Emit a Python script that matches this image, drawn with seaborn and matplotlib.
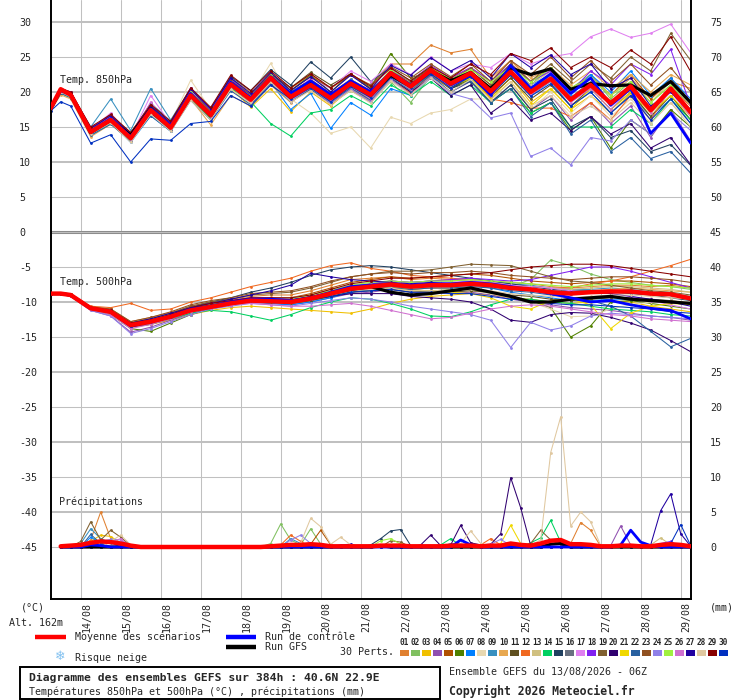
import matplotlib
matplotlib.use("Agg")
import matplotlib.pyplot as plt
import seaborn as sns
import pandas as pd
from matplotlib.transforms import ScaledTranslation
from matplotlib.patches import Rectangle
from matplotlib.lines import Line2D

# ---------------- data ----------------
hours = [0, 6, 12, 24, 36, 48, 60, 72, 84, 96, 108, 120, 132, 144, 156, 168, 180,
         192, 204, 216, 228, 240, 252, 264, 276, 288, 300, 312, 324, 336, 348, 360, 372, 384]
precip_hours = list(range(6, 385, 6))

date_hours = [18, 42, 66, 90, 114, 138, 162, 186, 210, 234, 258, 282, 306, 330, 354, 378]
date_labels = ["14/08", "15/08", "16/08", "17/08", "18/08", "19/08", "20/08", "21/08",
               "22/08", "23/08", "24/08", "25/08", "26/08", "27/08", "28/08", "29/08"]

left_ticks = [30, 25, 20, 15, 10, 5, 0, -5, -10, -15, -20, -25, -30, -35, -40, -45]
right_ticks = [75, 70, 65, 60, 55, 50, 45, 40, 35, 30, 25, 20, 15, 10, 5, 0]

pert_ids = ["%02d" % i for i in range(1, 31)]
pert_colors = ["#E08030", "#80C060", "#F0C000", "#9050B0", "#B05000", "#508000",
               "#0080FF", "#E8D8B0", "#3890C0", "#E8A850", "#605020", "#F06820",
               "#D0C080", "#00D060", "#204060", "#687080", "#E080F0", "#8020F0",
               "#806030", "#300070", "#F0D800", "#2860A0", "#905020", "#9080E8",
               "#A0F040", "#D070D0", "#2000A0", "#E0C8A0", "#880000", "#0030C0"]

t850_mean = [17.7, 20.4, 19.6, 14.3, 16.0, 13.4, 17.4, 14.9, 19.5, 16.7, 21.1, 18.9, 22.0, 19.3, 21.0, 19.1, 21.2,
             19.6, 22.7, 20.8, 23.1, 21.2, 22.7, 20.1, 22.9, 20.0, 21.9, 18.9, 21.0, 18.4, 20.8, 17.4, 20.5, 17.1]
t850_ctrl = [17.6, 20.2, 19.6, 14.4, 16.2, 13.6, 17.6, 15.2, 19.8, 16.8, 21.4, 19.2, 22.2, 19.8, 21.6, 19.6, 21.6,
             20.0, 22.8, 21.0, 23.0, 21.0, 22.4, 19.6, 23.8, 20.5, 22.6, 19.8, 22.0, 18.1, 20.5, 14.1, 17.0, 12.7]
t850_gfs = [17.6, 20.3, 19.7, 14.2, 16.0, 13.8, 17.6, 15.0, 19.6, 16.6, 21.2, 19.0, 22.0, 19.2, 21.4, 19.4, 21.2,
            19.6, 22.4, 20.8, 23.0, 21.6, 22.8, 20.5, 23.4, 22.5, 23.3, 20.4, 21.2, 20.9, 21.0, 19.5, 21.5, 18.5]
t850_perts = [
    [17.8, 20.3, 19.8, 14.8, 16.5, 13.8, 17.8, 15.5, 20.0, 17.5, 22.0, 20.0, 22.5, 20.5, 22.5, 20.5, 22.5, 21.0, 24.0, 24.0, 26.7, 25.6, 26.1, 22.0, 24.5, 21.5, 23.0, 20.0, 22.5, 19.5, 22.0, 19.0, 21.5, 20.5],
    [17.6, 20.2, 19.6, 14.2, 16.3, 13.2, 17.2, 14.6, 19.8, 16.8, 21.5, 18.5, 21.8, 18.8, 20.5, 18.3, 20.2, 18.6, 21.5, 18.5, 22.3, 20.5, 22.0, 19.5, 23.5, 21.0, 23.5, 20.5, 22.5, 19.0, 21.5, 18.5, 21.0, 18.0],
    [17.4, 19.8, 19.2, 14.0, 15.8, 13.0, 17.0, 14.6, 19.0, 16.2, 20.6, 17.8, 20.5, 17.2, 20.0, 18.0, 20.5, 18.8, 22.0, 20.0, 22.5, 20.5, 22.0, 19.2, 22.0, 18.5, 20.5, 17.5, 19.5, 17.0, 19.8, 16.5, 19.5, 16.0],
    [17.7, 20.4, 19.6, 14.6, 16.8, 13.8, 18.2, 15.4, 20.0, 17.0, 21.2, 19.0, 21.8, 19.0, 20.6, 18.6, 20.5, 19.0, 22.0, 20.0, 22.0, 20.0, 21.5, 18.5, 21.0, 17.5, 19.5, 16.0, 18.5, 15.5, 18.0, 13.5, 17.5, 13.0],
    [17.9, 20.5, 20.0, 14.9, 16.4, 14.0, 17.8, 15.2, 19.8, 16.9, 21.4, 19.4, 22.4, 20.0, 21.8, 19.8, 21.8, 20.2, 23.0, 21.4, 23.5, 21.8, 23.4, 21.0, 24.0, 21.5, 23.5, 20.5, 22.0, 19.5, 22.5, 19.0, 22.0, 18.5],
    [17.5, 20.0, 19.4, 14.4, 15.8, 13.6, 17.4, 15.0, 19.6, 16.6, 21.6, 19.2, 22.6, 20.2, 22.4, 20.0, 22.6, 20.6, 25.5, 22.0, 23.0, 20.5, 21.8, 18.5, 20.5, 17.0, 18.5, 14.5, 16.5, 12.0, 16.0, 14.0, 17.5, 15.0],
    [17.6, 20.1, 19.5, 13.8, 15.6, 12.8, 16.6, 14.4, 19.2, 16.4, 20.8, 18.5, 21.4, 17.5, 19.8, 14.8, 18.5, 16.7, 20.5, 19.5, 22.0, 21.0, 23.0, 20.5, 23.5, 21.0, 22.5, 19.5, 22.5, 20.0, 23.0, 19.5, 22.0, 19.0],
    [17.6, 20.0, 19.4, 14.0, 16.2, 13.6, 18.2, 15.6, 21.7, 17.5, 21.8, 19.5, 24.1, 19.0, 17.0, 14.1, 15.0, 12.0, 16.4, 15.5, 17.0, 17.5, 19.0, 19.0, 21.5, 17.5, 20.0, 17.0, 19.5, 16.5, 19.0, 16.0, 18.5, 15.5],
    [17.9, 20.3, 19.9, 15.0, 19.0, 14.5, 20.5, 16.0, 20.5, 17.0, 22.0, 19.5, 22.5, 20.0, 21.5, 19.5, 21.8, 20.0, 23.0, 21.0, 23.0, 21.0, 22.0, 19.5, 22.5, 19.5, 21.5, 18.0, 20.0, 17.0, 19.5, 16.5, 19.0, 15.5],
    [17.3, 19.6, 19.0, 13.6, 15.4, 13.0, 16.8, 14.8, 19.0, 15.3, 19.5, 18.0, 21.0, 18.5, 20.5, 18.5, 20.8, 19.0, 22.5, 21.5, 23.5, 22.0, 23.5, 21.5, 24.5, 22.0, 23.5, 21.0, 23.0, 20.5, 22.5, 20.0, 22.5, 21.0],
    [17.7, 20.3, 19.7, 14.7, 16.6, 14.2, 18.0, 15.6, 20.2, 17.4, 21.6, 19.6, 22.6, 20.6, 22.8, 21.0, 22.6, 20.4, 22.8, 20.4, 22.6, 20.4, 22.2, 19.4, 22.0, 19.0, 21.0, 18.0, 20.5, 17.5, 20.0, 16.5, 19.5, 16.0],
    [17.5, 20.1, 19.4, 14.4, 15.9, 13.4, 17.2, 14.8, 19.4, 16.4, 20.8, 18.4, 21.4, 18.6, 20.4, 18.2, 20.4, 18.6, 21.8, 19.8, 22.4, 20.6, 22.8, 19.0, 18.5, 17.7, 17.7, 16.5, 18.5, 16.0, 19.5, 16.0, 20.5, 18.0],
    [17.6, 20.2, 19.6, 14.4, 16.2, 13.6, 17.6, 15.2, 19.6, 16.8, 21.2, 19.2, 22.2, 19.6, 21.4, 19.4, 21.4, 19.8, 22.8, 21.2, 23.2, 21.6, 23.0, 20.6, 23.6, 21.0, 23.0, 20.0, 22.0, 19.5, 22.0, 18.5, 21.5, 18.0],
    [17.4, 19.9, 19.2, 14.0, 15.6, 13.0, 17.0, 14.6, 19.2, 16.2, 20.6, 18.6, 15.5, 13.7, 17.0, 17.5, 19.5, 18.0, 21.0, 19.5, 21.5, 19.5, 21.0, 18.5, 20.5, 17.0, 18.5, 15.0, 15.0, 15.0, 17.5, 15.5, 19.0, 16.0],
    [17.8, 20.4, 19.8, 14.6, 16.8, 14.0, 18.4, 15.8, 20.4, 17.6, 22.2, 20.2, 23.2, 21.0, 24.3, 22.0, 25.0, 21.5, 23.5, 21.5, 23.5, 20.5, 21.5, 18.5, 21.0, 17.5, 19.0, 15.0, 16.5, 13.5, 14.5, 11.5, 12.5, 9.5],
    [17.5, 20.0, 19.4, 14.2, 15.8, 13.2, 17.2, 14.8, 19.4, 16.6, 20.8, 18.6, 21.6, 19.0, 20.8, 18.8, 20.8, 19.2, 22.2, 20.4, 22.6, 20.8, 22.4, 20.2, 23.0, 20.2, 22.4, 19.2, 21.5, 18.5, 21.0, 17.5, 20.5, 17.5],
    [17.7, 20.2, 19.6, 14.6, 17.0, 13.6, 19.5, 15.4, 20.2, 17.0, 21.4, 19.2, 22.0, 19.4, 22.0, 20.5, 23.0, 21.5, 24.0, 22.5, 25.0, 23.0, 24.0, 23.5, 25.5, 24.0, 25.0, 25.5, 27.9, 29.0, 27.8, 28.4, 29.7, 25.6],
    [17.8, 20.5, 20.0, 14.8, 16.6, 14.0, 18.0, 15.4, 20.6, 17.4, 21.8, 19.6, 22.4, 19.6, 21.4, 19.8, 21.6, 20.2, 23.0, 21.6, 23.8, 22.0, 23.5, 21.5, 24.0, 21.5, 23.0, 20.0, 23.0, 21.0, 24.0, 22.5, 26.1, 18.0],
    [17.6, 20.2, 19.6, 14.4, 16.0, 13.4, 17.6, 15.0, 19.6, 16.6, 21.0, 19.0, 22.2, 19.8, 21.4, 19.6, 21.6, 20.0, 23.0, 21.2, 23.4, 21.6, 23.4, 21.0, 24.0, 21.5, 24.0, 21.5, 24.0, 22.0, 25.0, 23.0, 28.4, 24.5],
    [17.5, 20.0, 19.4, 14.2, 15.8, 13.2, 17.0, 14.6, 19.2, 16.4, 20.8, 18.8, 21.8, 19.2, 20.8, 18.8, 21.0, 19.2, 22.0, 20.0, 22.0, 19.5, 21.0, 17.0, 19.0, 16.0, 17.0, 14.5, 16.5, 14.0, 15.5, 12.0, 13.5, 9.6],
    [17.6, 20.1, 19.5, 14.4, 16.0, 13.5, 17.5, 15.0, 19.5, 16.6, 21.0, 18.9, 21.8, 19.2, 21.0, 19.0, 21.0, 19.4, 22.4, 20.6, 22.8, 20.8, 22.0, 19.0, 21.5, 18.0, 20.5, 17.5, 20.5, 17.5, 20.0, 17.0, 19.5, 16.5],
    [17.4, 19.8, 19.2, 13.8, 15.4, 13.0, 16.6, 14.4, 18.8, 16.0, 20.2, 18.2, 21.2, 18.6, 20.4, 18.4, 20.6, 18.8, 22.0, 20.2, 22.4, 20.0, 21.6, 18.5, 20.5, 16.5, 18.5, 14.0, 16.0, 11.5, 13.5, 10.5, 11.5, 8.4],
    [17.8, 20.4, 19.8, 14.6, 16.4, 13.8, 18.0, 15.4, 20.0, 17.2, 21.6, 19.6, 22.6, 20.2, 22.2, 20.6, 22.4, 21.0, 23.6, 22.0, 24.0, 22.2, 24.0, 21.5, 24.5, 22.5, 25.0, 22.0, 24.5, 21.5, 24.0, 21.0, 23.5, 20.0],
    [17.5, 20.0, 19.4, 14.2, 16.4, 13.2, 17.6, 14.8, 19.6, 16.4, 21.0, 18.6, 21.6, 18.8, 20.6, 18.4, 20.4, 18.6, 21.8, 19.6, 22.2, 19.8, 19.0, 16.3, 17.0, 10.8, 12.0, 9.6, 13.5, 13.0, 16.0, 14.0, 17.0, 14.5],
    [17.7, 20.3, 19.8, 14.6, 16.2, 13.8, 17.8, 15.2, 20.0, 17.0, 21.4, 19.4, 22.4, 20.0, 21.6, 19.6, 21.6, 20.0, 23.2, 21.6, 23.6, 21.8, 23.2, 21.4, 23.6, 21.4, 23.4, 20.6, 22.0, 19.5, 21.5, 18.5, 21.0, 18.5],
    [17.6, 20.1, 19.5, 14.3, 16.6, 13.4, 18.6, 14.8, 19.4, 16.4, 20.8, 18.6, 21.8, 19.0, 21.0, 18.8, 21.0, 19.0, 22.4, 20.4, 23.0, 20.6, 22.6, 19.4, 22.6, 19.6, 21.6, 18.5, 20.5, 17.5, 20.5, 17.0, 20.0, 16.5],
    [17.8, 20.4, 19.8, 14.8, 16.6, 14.0, 18.0, 15.6, 20.4, 17.6, 22.0, 19.8, 22.8, 20.2, 22.2, 20.0, 22.4, 20.4, 23.8, 22.4, 24.9, 23.0, 24.5, 22.0, 25.5, 23.5, 25.3, 22.5, 24.0, 20.5, 22.0, 18.0, 20.0, 17.0],
    [17.5, 20.0, 19.3, 14.0, 15.6, 12.8, 16.8, 14.4, 18.8, 16.0, 20.4, 18.4, 21.4, 18.6, 20.2, 18.2, 20.2, 18.4, 21.6, 19.6, 22.0, 20.0, 21.8, 18.8, 21.5, 18.0, 19.5, 16.5, 18.0, 16.0, 18.5, 15.5, 18.5, 15.0],
    [17.9, 20.5, 20.0, 15.0, 16.8, 14.2, 18.2, 15.8, 20.6, 17.8, 22.4, 20.2, 23.0, 20.6, 22.6, 20.6, 22.6, 20.8, 23.4, 21.6, 23.6, 22.0, 24.0, 22.5, 25.5, 24.5, 26.3, 23.5, 25.0, 23.5, 26.0, 24.0, 27.9, 22.9],
    [17.3, 18.6, 18.0, 12.7, 13.9, 10.0, 13.3, 13.1, 15.5, 15.8, 19.5, 18.0, 21.0, 19.0, 20.6, 18.6, 20.8, 19.2, 22.2, 20.6, 22.6, 20.6, 22.2, 19.6, 22.4, 19.4, 21.2, 18.0, 20.0, 17.0, 19.5, 16.0, 19.0, 15.5],
]

t500_mean = [-8.8, -8.8, -9.0, -10.9, -11.4, -13.3, -12.8, -12.1, -11.2, -10.7, -10.2, -9.8, -9.9, -10.0, -9.5, -8.8, -8.1,
             -7.8, -7.5, -7.8, -7.6, -7.6, -7.4, -7.6, -8.0, -8.2, -8.6, -8.8, -8.6, -8.5, -8.5, -8.8, -8.9, -9.5]
t500_ctrl = [-8.8, -8.8, -9.0, -10.9, -11.4, -13.3, -12.8, -12.0, -11.0, -10.6, -10.0, -9.6, -9.6, -9.8, -9.4, -8.6, -7.8,
             -7.6, -7.4, -7.6, -7.4, -7.4, -7.2, -7.4, -7.8, -8.2, -8.8, -9.4, -10.0, -9.8, -10.4, -10.9, -11.2, -12.4]
t500_gfs = [-8.8, -8.8, -9.0, -10.9, -11.4, -13.3, -12.8, -12.0, -11.1, -10.6, -10.1, -9.7, -9.8, -9.9, -9.4, -8.8, -8.2,
            -7.8, -8.6, -9.0, -8.8, -8.4, -8.0, -8.6, -9.2, -10.0, -10.0, -9.6, -9.4, -9.2, -9.6, -9.8, -10.0, -10.2]
t500_perts = [
    [-8.7, -8.7, -8.9, -10.7, -11.0, -12.8, -12.2, -11.5, -10.6, -10.0, -9.6, -9.2, -9.0, -9.0, -8.4, -7.6, -6.8, -6.6, -6.4, -6.8, -6.6, -6.8, -6.8, -7.0, -7.2, -7.4, -7.8, -8.0, -7.8, -7.6, -7.6, -7.8, -7.6, -8.0],
    [-8.8, -8.8, -9.0, -10.8, -11.2, -13.0, -12.6, -11.8, -11.0, -10.4, -10.0, -9.6, -9.6, -9.6, -9.2, -8.4, -7.6, -7.4, -7.2, -7.6, -7.4, -7.4, -7.2, -7.4, -7.8, -6.8, -4.0, -4.8, -6.0, -6.8, -7.2, -7.6, -7.8, -8.2],
    [-8.8, -8.9, -9.1, -11.0, -11.6, -13.6, -13.2, -12.6, -11.8, -11.2, -10.8, -10.6, -10.8, -11.0, -11.2, -11.4, -11.6, -11.0, -10.2, -9.6, -9.2, -9.0, -8.8, -9.0, -9.4, -9.6, -10.0, -10.2, -10.0, -9.8, -10.0, -10.6, -11.0, -11.4],
    [-8.8, -8.9, -9.2, -11.2, -12.0, -14.3, -13.6, -12.6, -11.6, -11.0, -10.4, -10.0, -10.2, -10.4, -10.0, -9.4, -8.8, -8.6, -8.2, -8.6, -8.6, -8.8, -8.6, -9.0, -9.6, -10.0, -10.4, -10.8, -11.0, -11.2, -11.6, -12.0, -12.2, -12.6],
    [-8.7, -8.7, -8.9, -10.8, -11.2, -13.0, -12.4, -11.8, -10.8, -10.2, -9.8, -9.4, -9.4, -9.4, -8.8, -8.0, -7.2, -6.8, -6.4, -6.6, -6.4, -6.2, -6.0, -6.2, -6.6, -7.0, -7.2, -7.4, -7.2, -7.0, -7.0, -7.2, -7.4, -7.8],
    [-8.8, -8.9, -9.1, -11.0, -11.8, -13.8, -14.2, -13.0, -11.8, -11.0, -10.4, -10.0, -10.0, -10.2, -9.8, -9.2, -8.6, -8.2, -7.8, -8.2, -8.0, -8.2, -8.2, -8.6, -9.2, -9.8, -10.8, -15.0, -13.4, -10.0, -9.8, -10.2, -10.6, -11.0],
    [-8.8, -8.8, -9.0, -10.9, -11.4, -13.4, -12.9, -12.2, -11.4, -10.9, -10.4, -10.0, -10.2, -10.4, -10.0, -9.4, -8.6, -8.2, -7.8, -8.0, -7.8, -7.8, -7.6, -8.0, -8.6, -9.0, -9.4, -9.8, -9.8, -9.6, -9.6, -9.8, -10.0, -10.4],
    [-8.8, -8.8, -9.0, -10.8, -11.2, -13.0, -12.6, -12.0, -11.0, -10.6, -10.0, -9.6, -9.6, -9.6, -9.2, -8.6, -8.0, -7.8, -7.6, -8.0, -8.0, -8.2, -8.4, -8.8, -9.4, -10.0, -11.0, -12.1, -12.0, -11.0, -10.4, -10.0, -9.8, -10.0],
    [-8.8, -8.8, -9.0, -10.9, -11.4, -13.2, -12.6, -11.8, -10.8, -10.2, -9.8, -9.4, -9.6, -9.8, -9.4, -8.6, -7.8, -7.4, -7.0, -7.2, -7.0, -7.0, -6.8, -7.0, -7.4, -7.6, -8.0, -8.2, -8.2, -8.0, -8.2, -8.6, -9.0, -9.4],
    [-8.8, -8.9, -9.0, -10.9, -11.6, -13.4, -12.8, -12.0, -11.2, -10.8, -10.4, -10.0, -10.0, -10.2, -9.6, -9.0, -8.4, -8.0, -7.8, -8.2, -8.0, -8.0, -7.8, -7.8, -8.2, -8.4, -8.6, -8.8, -8.4, -8.2, -8.0, -8.2, -8.4, -8.6],
    [-8.8, -8.8, -9.0, -11.0, -11.6, -13.6, -13.2, -12.4, -11.4, -10.8, -10.2, -9.8, -10.0, -10.2, -9.8, -9.2, -8.6, -8.4, -8.2, -8.6, -8.4, -8.6, -8.4, -8.6, -9.0, -9.2, -9.6, -9.8, -9.6, -9.4, -9.4, -9.6, -9.8, -10.2],
    [-8.8, -8.8, -9.0, -10.6, -10.8, -10.2, -11.2, -11.0, -10.0, -9.4, -8.6, -7.8, -7.2, -6.6, -5.6, -4.8, -4.4, -5.2, -5.6, -6.2, -6.4, -6.6, -6.8, -7.2, -7.6, -7.8, -8.0, -8.0, -7.4, -7.0, -6.4, -5.6, -4.8, -3.9],
    [-8.8, -8.8, -9.0, -10.8, -11.2, -13.0, -12.4, -11.6, -10.8, -10.2, -9.8, -9.4, -9.4, -9.4, -9.0, -8.2, -7.6, -7.2, -7.0, -7.2, -7.0, -7.0, -6.8, -7.2, -7.6, -7.8, -8.0, -8.2, -8.0, -7.8, -7.8, -8.0, -8.2, -8.6],
    [-8.8, -8.9, -9.1, -11.0, -11.6, -13.4, -13.0, -12.4, -11.6, -11.2, -11.4, -12.0, -12.6, -11.8, -10.8, -10.0, -9.4, -9.6, -10.2, -11.0, -12.0, -12.1, -11.4, -10.4, -9.6, -9.6, -10.0, -10.2, -10.6, -11.0, -11.2, -11.4, -11.8, -12.0],
    [-8.8, -8.8, -9.0, -10.8, -11.2, -13.0, -12.6, -11.8, -10.8, -10.0, -9.4, -8.6, -8.0, -7.2, -6.2, -5.4, -5.0, -4.8, -5.0, -5.4, -5.8, -6.2, -6.6, -7.0, -7.4, -7.8, -8.2, -8.4, -8.4, -8.6, -8.8, -9.0, -9.4, -9.8],
    [-8.8, -8.8, -9.0, -10.9, -11.4, -13.2, -12.8, -12.0, -11.2, -10.6, -10.2, -9.8, -9.8, -10.0, -9.6, -9.0, -8.2, -8.0, -7.8, -8.0, -7.8, -7.8, -7.6, -7.8, -8.2, -8.4, -8.6, -8.8, -8.6, -8.4, -8.4, -8.6, -8.8, -9.2],
    [-8.8, -8.8, -9.0, -10.9, -11.6, -13.6, -13.0, -12.2, -11.2, -10.6, -10.0, -9.6, -9.6, -9.8, -9.4, -8.8, -8.2, -7.8, -7.4, -7.6, -7.4, -7.2, -7.0, -7.2, -7.6, -7.8, -8.0, -8.4, -8.6, -8.8, -9.2, -9.8, -10.4, -11.0],
    [-8.8, -8.8, -9.0, -10.9, -11.4, -13.2, -12.6, -11.8, -10.8, -10.2, -9.8, -9.4, -9.4, -9.6, -9.2, -8.6, -7.8, -7.4, -7.0, -7.2, -7.0, -6.8, -6.6, -6.8, -7.0, -6.8, -6.2, -5.6, -5.0, -5.0, -5.6, -6.4, -7.2, -8.0],
    [-8.8, -8.8, -9.0, -10.8, -11.2, -13.0, -12.4, -11.6, -10.6, -10.0, -9.6, -9.0, -8.8, -8.6, -8.0, -7.2, -6.4, -6.0, -5.6, -5.6, -5.4, -5.0, -4.6, -4.7, -4.8, -5.6, -6.4, -7.0, -7.2, -7.6, -8.0, -8.4, -8.6, -9.0],
    [-8.8, -8.9, -9.1, -11.0, -11.6, -13.6, -13.0, -12.2, -11.2, -10.6, -10.0, -9.6, -9.6, -9.8, -9.6, -9.2, -8.8, -8.8, -8.8, -9.2, -9.4, -9.6, -10.0, -11.0, -12.6, -12.9, -11.8, -11.5, -11.6, -12.2, -13.0, -14.0, -15.5, -17.1],
    [-8.8, -8.8, -9.0, -10.9, -11.4, -13.2, -12.8, -12.0, -11.0, -10.6, -10.2, -9.8, -9.8, -10.0, -9.6, -9.0, -8.4, -8.2, -8.0, -8.4, -8.4, -8.6, -8.8, -9.4, -10.6, -11.0, -9.8, -9.6, -10.4, -13.8, -11.6, -10.6, -10.2, -10.4],
    [-8.8, -8.8, -9.0, -10.9, -11.4, -13.4, -12.9, -12.1, -11.2, -10.7, -10.2, -9.8, -9.8, -10.0, -9.6, -9.0, -8.4, -8.2, -8.0, -8.2, -8.0, -8.0, -7.8, -8.0, -8.4, -8.6, -9.0, -9.4, -9.8, -10.6, -12.0, -14.2, -16.4, -15.2],
    [-8.7, -8.7, -8.9, -10.7, -11.0, -12.8, -12.2, -11.4, -10.4, -9.8, -9.4, -8.8, -8.6, -8.4, -7.8, -7.0, -6.4, -6.0, -5.8, -6.0, -5.8, -5.8, -5.6, -5.8, -6.2, -6.4, -6.6, -6.8, -6.6, -6.4, -6.4, -6.6, -6.8, -7.2],
    [-8.8, -8.9, -9.2, -11.2, -12.0, -14.5, -13.8, -12.8, -11.8, -11.0, -10.6, -10.2, -10.4, -10.6, -10.2, -9.8, -9.4, -9.6, -10.0, -10.6, -11.0, -11.4, -11.8, -12.6, -16.5, -12.9, -14.0, -13.4, -12.0, -11.6, -11.8, -12.0, -12.2, -12.4],
    [-8.8, -8.8, -9.0, -10.8, -11.2, -13.0, -12.6, -11.8, -10.8, -10.4, -10.0, -9.6, -9.6, -9.6, -9.0, -8.4, -7.6, -7.2, -7.0, -7.2, -7.0, -7.0, -6.8, -7.0, -7.2, -7.4, -7.6, -7.8, -7.6, -7.4, -7.4, -7.6, -7.8, -8.0],
    [-8.8, -8.9, -9.1, -11.0, -11.8, -13.8, -13.2, -12.4, -11.4, -10.8, -10.4, -10.2, -10.4, -10.6, -10.6, -10.4, -10.2, -10.6, -11.2, -11.8, -12.4, -12.2, -11.6, -11.0, -10.6, -10.4, -10.6, -11.0, -11.4, -11.8, -12.0, -12.4, -12.6, -12.8],
    [-8.8, -8.8, -9.0, -10.8, -11.2, -13.0, -12.4, -11.6, -10.8, -10.2, -9.6, -9.0, -8.4, -7.6, -5.9, -6.4, -6.8, -7.0, -7.2, -7.4, -7.2, -7.4, -7.4, -7.6, -8.0, -8.2, -8.4, -8.6, -8.6, -8.8, -9.2, -9.6, -10.0, -10.6],
    [-8.8, -8.8, -9.0, -10.9, -11.4, -13.2, -12.8, -12.0, -11.0, -10.6, -10.2, -9.8, -9.8, -10.0, -9.6, -9.0, -8.4, -8.2, -8.0, -8.4, -8.4, -8.4, -8.2, -8.4, -8.8, -9.0, -9.2, -9.4, -9.2, -9.0, -9.0, -9.2, -9.4, -9.6],
    [-8.8, -8.8, -9.0, -10.8, -11.2, -13.0, -12.6, -11.8, -10.8, -10.2, -9.8, -9.4, -9.4, -9.4, -9.0, -8.2, -7.4, -7.0, -6.6, -6.6, -6.4, -6.2, -6.0, -5.8, -5.4, -5.0, -4.8, -4.6, -4.6, -4.8, -5.2, -5.6, -6.0, -6.4],
    [-8.8, -8.8, -9.0, -10.9, -11.4, -13.4, -12.9, -12.2, -11.2, -10.7, -10.2, -9.8, -9.8, -10.0, -9.6, -9.2, -8.6, -8.4, -8.2, -8.6, -8.6, -8.8, -8.8, -9.2, -9.6, -9.8, -10.2, -10.4, -10.4, -10.6, -10.8, -11.0, -11.4, -11.6],
]

precip_mean = [0.1, 0.2, 0.3, 0.6, 0.8, 0.7, 0.5, 0.2,
               0.0, 0.0, 0.0, 0.0, 0.0, 0.0, 0.0, 0.0,
               0.0, 0.0, 0.0, 0.0, 0.0, 0.1, 0.2, 0.3,
               0.3, 0.4, 0.3, 0.1, 0.1, 0.1, 0.1, 0.1,
               0.2, 0.2, 0.2, 0.1, 0.1, 0.1, 0.1, 0.2,
               0.2, 0.2, 0.1, 0.2, 0.2, 0.5, 0.3, 0.2,
               0.5, 0.9, 1.0, 0.4, 0.4, 0.3, 0.1, 0.1,
               0.2, 0.2, 0.1, 0.1, 0.3, 0.4, 0.3, 0.1]
# (member, hour, mm) - every other 6-hourly value is 0 mm
precip_events = [
    (1, 24, 1.0), (1, 30, 5.0), (1, 36, 1.2), (1, 42, 0.3),
    (19, 18, 0.8), (19, 24, 3.6), (19, 30, 1.0), (19, 36, 2.4), (19, 42, 1.4), (19, 48, 0.2),
    (9, 18, 0.5), (9, 24, 2.6), (9, 30, 1.2), (9, 36, 0.6),
    (3, 24, 0.8), (3, 30, 1.7), (3, 36, 1.5), (3, 42, 0.6),
    (28, 36, 0.8), (28, 42, 1.7), (28, 48, 0.3),
    (24, 30, 0.8), (24, 36, 1.1), (24, 42, 1.0),
    (7, 24, 1.4), (7, 30, 0.6),
    (26, 36, 0.7), (26, 42, 1.2),
    (22, 24, 1.8), (22, 30, 0.5),
    (2, 132, 0.5), (2, 138, 3.3), (2, 144, 1.0), (2, 150, 0.3), (2, 156, 2.6), (2, 162, 0.4),
    (12, 138, 0.3), (12, 144, 1.7), (12, 150, 0.8),
    (24, 144, 1.0), (24, 150, 1.7), (24, 156, 0.5),
    (9, 144, 1.2), (9, 150, 0.5),
    (28, 150, 0.6), (28, 156, 4.1), (28, 162, 2.9), (28, 168, 0.4), (28, 174, 1.4), (28, 180, 0.3),
    (5, 156, 0.4), (5, 162, 2.4), (5, 168, 0.3),
    (27, 174, 0.3), (27, 180, 0.4),
    (15, 192, 0.3), (15, 198, 1.2), (15, 204, 2.3), (15, 210, 2.5), (15, 216, 0.2),
    (25, 198, 0.9), (25, 204, 1.2), (25, 210, 0.4),
    (19, 204, 0.9), (19, 210, 0.7),
    (20, 222, 0.3), (20, 228, 1.7), (20, 234, 0.2), (20, 240, 0.3), (20, 246, 3.1), (20, 252, 0.6),
    (20, 258, 0.3), (20, 264, 0.4), (20, 270, 1.9), (20, 276, 9.9), (20, 282, 5.6), (20, 288, 0.2),
    (14, 234, 0.3), (14, 240, 1.2), (14, 246, 0.2), (14, 288, 0.6), (14, 294, 1.3), (14, 300, 3.8), (14, 306, 0.7),
    (28, 246, 0.5), (28, 252, 2.3), (28, 258, 0.5), (28, 288, 0.3), (28, 294, 1.0), (28, 300, 13.5),
    (28, 306, 18.6), (28, 312, 3.0), (28, 318, 5.0), (28, 324, 3.6), (28, 330, 0.2),
    (21, 270, 0.5), (21, 276, 3.1), (21, 282, 0.5), (21, 288, 0.3),
    (19, 288, 0.5), (19, 294, 2.4), (19, 300, 1.0), (19, 306, 0.3),
    (1, 312, 0.5), (1, 318, 3.5), (1, 324, 2.4), (1, 330, 0.1),
    (4, 336, 0.2), (4, 342, 3.0), (4, 348, 0.3),
    (13, 360, 0.3), (13, 366, 1.3), (13, 372, 0.3),
    (12, 258, 0.3), (12, 264, 1.2), (12, 270, 0.3),
    (24, 264, 0.4), (24, 270, 1.1), (24, 276, 0.2),
    (18, 366, 0.5), (18, 372, 0.8),
    (7, 240, 0.5), (7, 246, 0.3),
    (27, 360, 0.3), (27, 366, 5.2), (27, 372, 7.6), (27, 378, 1.9), (27, 384, 0.1),
    (30, 372, 0.5), (30, 378, 3.2), (30, 384, 0.2),
]
precip_ctrl_events = [(24, 0.3), (30, 0.2), (246, 1.0), (252, 0.3), (342, 0.3), (348, 2.4), (354, 0.7), (360, 0.2)]
precip_gfs_events = [(198, 0.2), (300, 0.4), (306, 0.5)]

for row in t850_perts + t500_perts + [t850_mean, t850_ctrl, t850_gfs, t500_mean, t500_ctrl, t500_gfs]:
    assert len(row) == len(hours), len(row)
assert len(precip_mean) == len(precip_hours)

# ---------------- figure ----------------
W, H = 740, 700
PRECIP_BASE = -45.0          # 0 mm sits on the -45 line of the shared scale

sns.set_style("white")
plt.rcParams["font.family"] = ["DejaVu Sans Mono", "DejaVu Sans"]
FS = 7.2

fig = plt.figure(figsize=(W / 100, H / 100), dpi=100)
ax = fig.add_axes([50.7 / W, 1 - 599 / H, 640 / W, 599 / H])
ax.set_xlim(0, 384)
ylim = ((232 - 599) / 7.0, 232 / 7.0)
ax.set_ylim(*ylim)

# grid
for h in date_hours:
    ax.axvline(h, color="#c0c0c0", lw=0.75, zorder=0.5)
for v in range(-45, 31, 5):
    if v == 0:
        ax.axhline(0, color="#8c8c8c", lw=2.2, zorder=0.6)
        ax.axhline(0, color="#d4d4d4", lw=0.5, zorder=0.7)
    else:
        ax.axhline(v, color="#c0c0c0", lw=1.45 if v % 10 == 0 else 0.75, zorder=0.5)

palette = dict(zip(pert_ids, pert_colors))


def members_frame(series, xs, offset=0.0):
    rows = []
    for mid, vals in zip(pert_ids, series):
        for h, v in zip(xs, vals):
            rows.append((mid, h, v + offset))
    return pd.DataFrame(rows, columns=["member", "hour", "y"])


# dense precipitation per member
pr_dense = {m: dict.fromkeys(precip_hours, 0.0) for m in range(1, 31)}
for m, h, mm in precip_events:
    pr_dense[m][h] = mm
precip_perts = [[pr_dense[m][h] for h in precip_hours] for m in range(1, 31)]
ctrl_d = dict.fromkeys(precip_hours, 0.0)
ctrl_d.update(dict(precip_ctrl_events))
precip_ctrl = [ctrl_d[h] for h in precip_hours]
gfs_d = dict.fromkeys(precip_hours, 0.0)
gfs_d.update(dict(precip_gfs_events))
precip_gfs = [gfs_d[h] for h in precip_hours]

pert_kw = dict(hue="member", palette=palette, estimator=None, legend=False, lw=0.75,
               marker="o", markersize=2.0, markeredgewidth=0, ax=ax, zorder=2)
sns.lineplot(data=members_frame(t850_perts, hours), x="hour", y="y", **pert_kw)
sns.lineplot(data=members_frame(t500_perts, hours), x="hour", y="y", **pert_kw)
sns.lineplot(data=members_frame(precip_perts, precip_hours, PRECIP_BASE), x="hour", y="y", **pert_kw)

pr_off = lambda s: [v + PRECIP_BASE for v in s]
for xs, ys in [(hours, t850_gfs), (hours, t500_gfs), (precip_hours, pr_off(precip_gfs))]:
    sns.lineplot(x=xs, y=ys, color="black", lw=2.3, estimator=None, ax=ax, zorder=3)
for xs, ys in [(hours, t850_ctrl), (hours, t500_ctrl), (precip_hours, pr_off(precip_ctrl))]:
    sns.lineplot(x=xs, y=ys, color="#0000ff", lw=2.0, estimator=None, ax=ax, zorder=3.5)
for xs, ys in [(hours, t850_mean), (hours, t500_mean), (precip_hours, pr_off(precip_mean))]:
    sns.lineplot(x=xs, y=ys, color="#ff0000", lw=3.2, estimator=None, ax=ax, zorder=4)

# spines
for s in ["left", "right", "bottom"]:
    ax.spines[s].set_visible(True)
    ax.spines[s].set_color("black")
    ax.spines[s].set_linewidth(1.4)
ax.spines["top"].set_visible(False)
ax.set_xlabel("")
ax.set_ylabel("")

# y ticks
ax.set_yticks(left_ticks)
ax.set_yticklabels([str(v) for v in left_ticks], ha="left", fontsize=FS)
ax.tick_params(axis="y", length=0, pad=31.5 * 0.72)
ax2 = ax.twinx()
ax2.set_ylim(*ylim)
ax2.set_yticks([r + PRECIP_BASE for r in right_ticks])
ax2.set_yticklabels([str(r) for r in right_ticks], fontsize=FS)
ax2.tick_params(axis="y", length=0, pad=19.3 * 0.72)
for s in ax2.spines.values():
    s.set_visible(False)

# x ticks (dates)
ax.set_xticks(date_hours)
ax.set_xticklabels(date_labels, rotation=90, va="top", ha="center", fontsize=FS)
ax.tick_params(axis="x", length=0, pad=2.2)
for lbl in ax.get_xticklabels():
    lbl.set_transform(lbl.get_transform() + ScaledTranslation(5.7 / 100, 0, fig.dpi_scale_trans))


def ftxt(x, y, s, **kw):
    kw.setdefault("fontsize", FS)
    kw.setdefault("va", "center")
    fig.text(x / W, 1 - y / H, s, **kw)


ftxt(60, 80, "Temp. 850hPa")
ftxt(60, 282, "Temp. 500hPa")
ftxt(59, 502, "Précipitations")
ftxt(21, 607, "(°C)")
ftxt(9, 623, "Alt. 162m")
ftxt(710, 607, "(mm)")

# legend
def fline(x1, x2, y, color, lw):
    fig.add_artist(Line2D([x1 / W, x2 / W], [1 - y / H, 1 - y / H], transform=fig.transFigure,
                          color=color, lw=lw, solid_capstyle="butt"))


fline(35, 66, 637, "#ff0000", 3.2)
ftxt(75, 637, "Moyenne des scénarios")
fline(226, 256, 637, "#0000ff", 3.2)
ftxt(265, 637, "Run de contrôle")
fline(226, 256, 647, "black", 3.2)
ftxt(265, 647, "Run GFS")
ftxt(60, 657, "❄", color="#80c0f0", ha="center", fontsize=9, family="DejaVu Sans")
ftxt(75, 658, "Risque neige")
ftxt(340, 652, "30 Perts.")
for i, (pid, col) in enumerate(zip(pert_ids, pert_colors)):
    x0 = 400 + 11 * i
    fig.add_artist(Rectangle((x0 / W, 1 - 656 / H), 9 / W, 6 / H, transform=fig.transFigure,
                             facecolor=col, edgecolor="none"))
    ftxt(x0 + 4.5, 642.5, pid, ha="center", fontsize=5.6, fontweight="bold")

# title box
fig.add_artist(Rectangle((20 / W, 0.6 / H), 420 / W, 32.5 / H, transform=fig.transFigure,
                         fill=False, edgecolor="black", lw=1.4))
ftxt(29, 677.5, "Diagramme des ensembles GEFS sur 384h : 40.6N 22.9E", fontsize=8.2, fontweight="bold")
ftxt(29, 692, "Températures 850hPa et 500hPa (°C) , précipitations (mm)")
ftxt(449.5, 672.5, "Ensemble GEFS du 13/08/2026 - 06Z")
ftxt(449.5, 691.5, "Copyright 2026 Meteociel.fr", fontsize=8.3, fontweight="bold")

fig.savefig("out.png", dpi=100, facecolor="white")
